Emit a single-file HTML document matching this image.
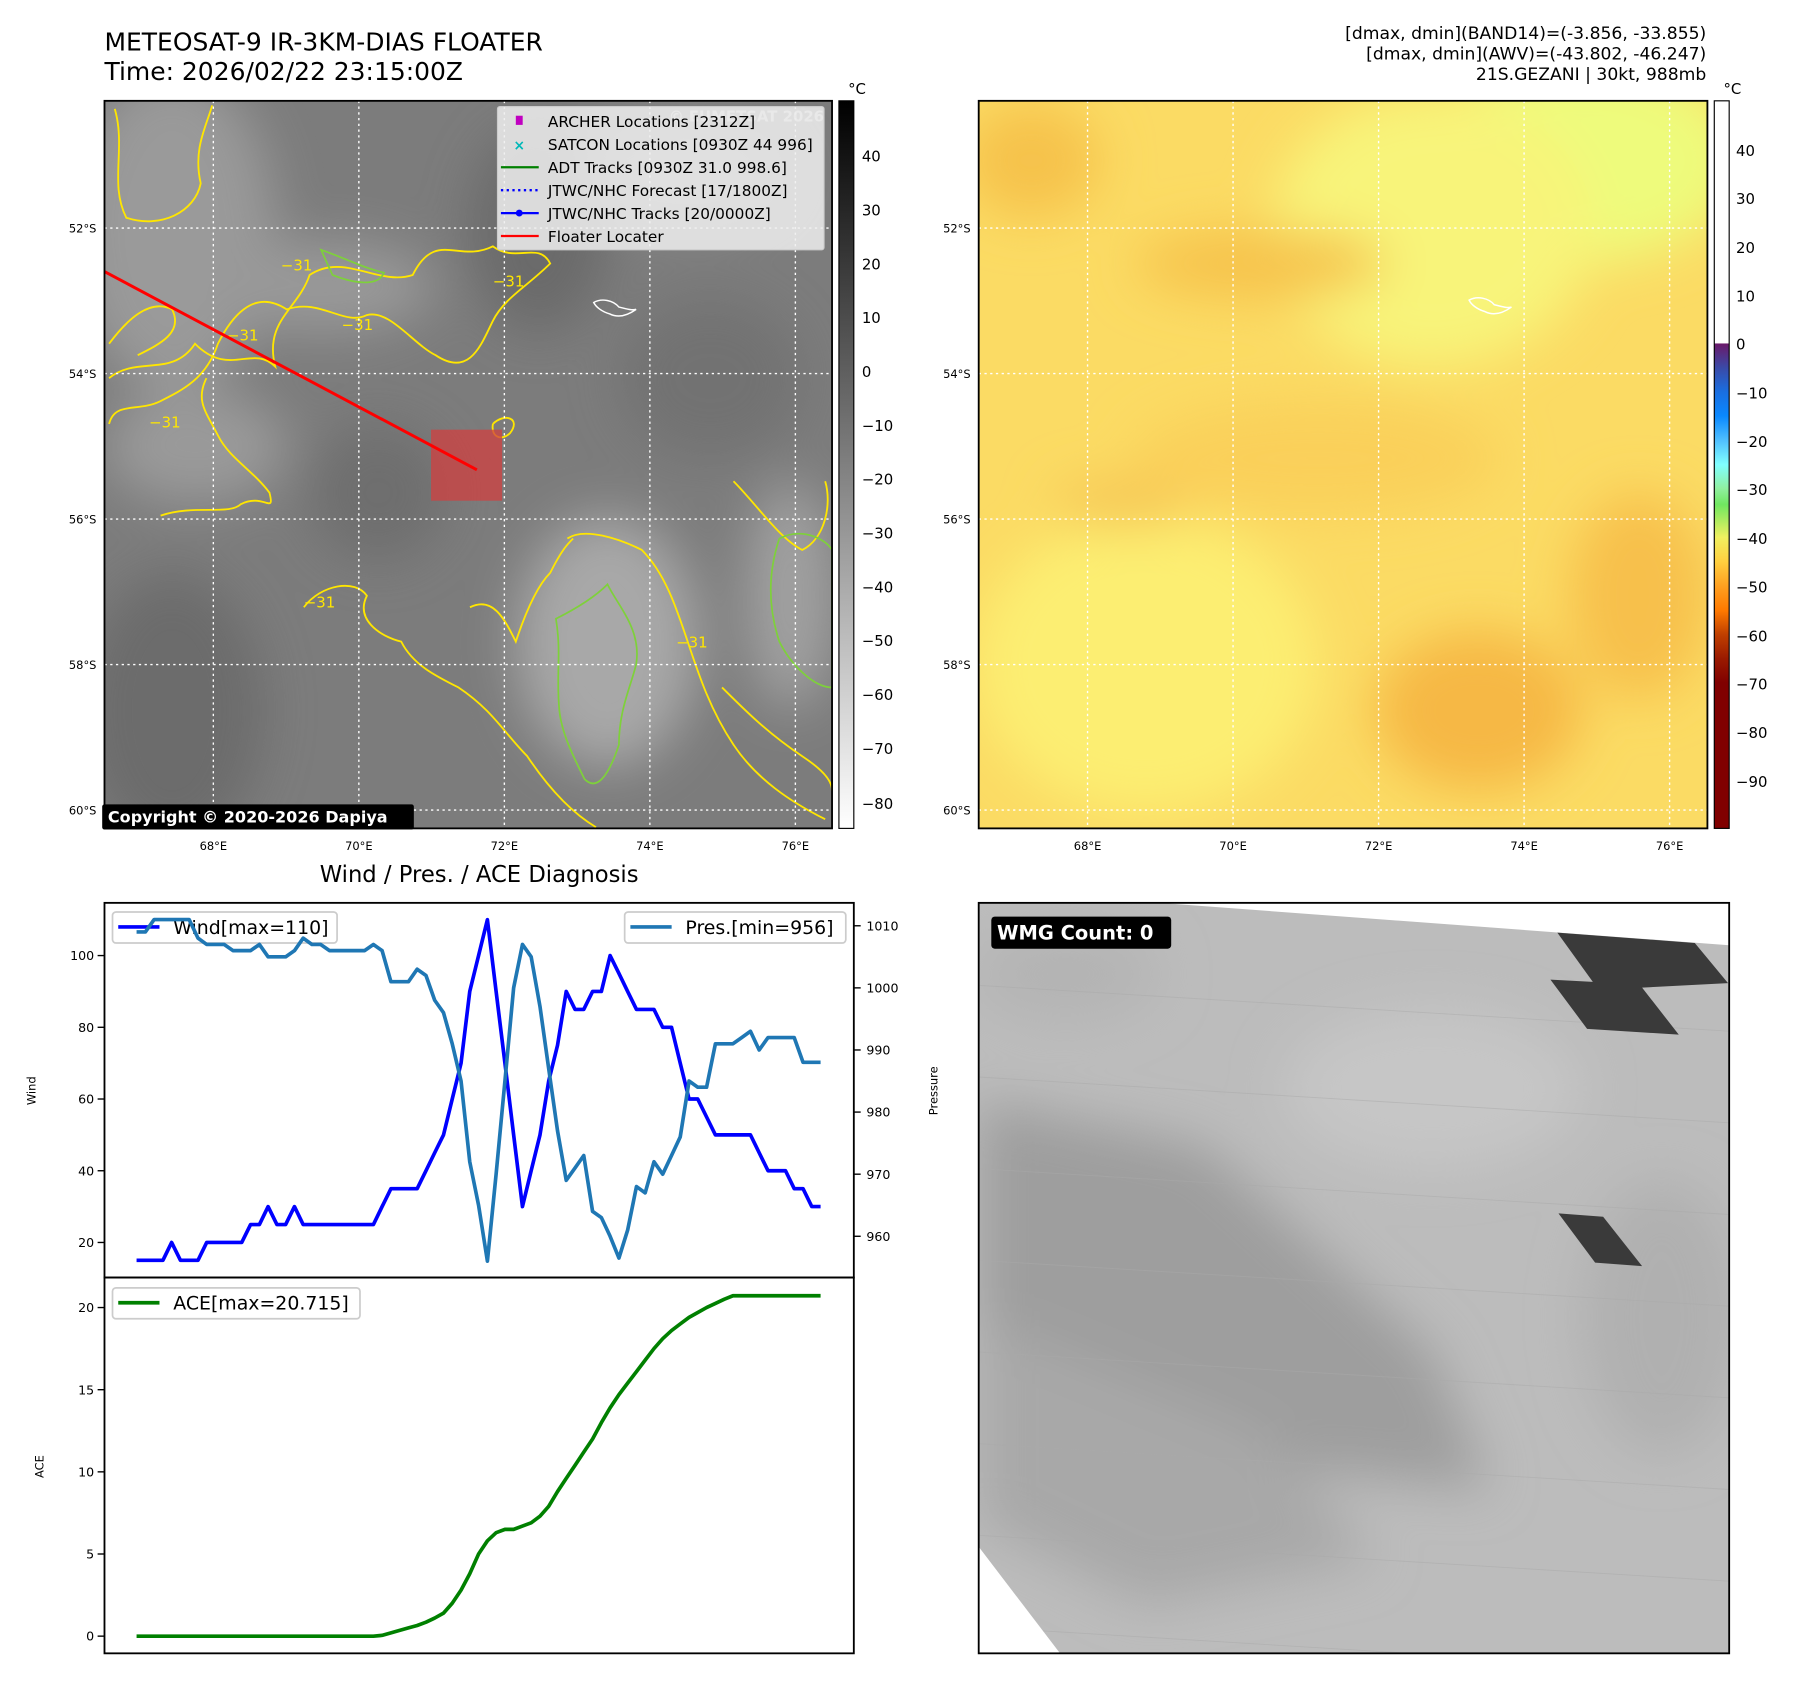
<!DOCTYPE html>
<html><head><meta charset="utf-8">
<style>
html,body{margin:0;padding:0;background:#fff;}
svg{display:block;font-family:"DejaVu Sans","Liberation Sans",sans-serif;}
</style></head>
<body>
<svg id="root" width="1797" height="1690" viewBox="0 0 1568 1475" xmlns="http://www.w3.org/2000/svg">
<defs>
  <filter id="blur20" x="-50%" y="-50%" width="200%" height="200%"><feGaussianBlur stdDeviation="22"/></filter>
  <clipPath id="clipL"><rect x="91" y="88" width="635" height="635"/></clipPath>
  <clipPath id="clipR"><rect x="854" y="88" width="636" height="635"/></clipPath>
  <clipPath id="clipB"><rect x="854" y="788" width="655" height="655"/></clipPath>
  <linearGradient id="cbGray" x1="0" y1="0" x2="0" y2="1">
    <stop offset="0" stop-color="#000"/><stop offset="1" stop-color="#fff"/>
  </linearGradient>
  <linearGradient id="cbColor" x1="0" y1="0" x2="0" y2="1">
    <stop offset="0" stop-color="#fff"/><stop offset="0.333" stop-color="#fff"/>
    <stop offset="0.334" stop-color="#6a1a6a"/>
    <stop offset="0.367" stop-color="#3a4aa8"/>
    <stop offset="0.40" stop-color="#1a6ee0"/>
    <stop offset="0.433" stop-color="#0a88ff"/>
    <stop offset="0.467" stop-color="#50c0ff"/>
    <stop offset="0.50" stop-color="#80ffff"/>
    <stop offset="0.533" stop-color="#90f0a0"/>
    <stop offset="0.555" stop-color="#70e860"/>
    <stop offset="0.60" stop-color="#f0f060"/>
    <stop offset="0.633" stop-color="#ffd040"/>
    <stop offset="0.667" stop-color="#ffa020"/>
    <stop offset="0.70" stop-color="#ff7a00"/>
    <stop offset="0.733" stop-color="#c04000"/>
    <stop offset="0.767" stop-color="#9a1a00"/>
    <stop offset="0.80" stop-color="#800000"/>
    <stop offset="1" stop-color="#800000"/>
  </linearGradient>
</defs>

<!-- titles -->
<text x="91" y="44" font-size="21.8">METEOSAT-9 IR-3KM-DIAS FLOATER</text>
<text x="91" y="70" font-size="21.8">Time: 2026/02/22 23:15:00Z</text>
<text x="1489" y="34" font-size="15" text-anchor="end">[dmax, dmin](BAND14)=(-3.856, -33.855)</text>
<text x="1489" y="52" font-size="15" text-anchor="end">[dmax, dmin](AWV)=(-43.802, -46.247)</text>
<text x="1489" y="70" font-size="15" text-anchor="end">21S.GEZANI | 30kt, 988mb</text>

<!-- LEFT IR MAP -->
<g clip-path="url(#clipL)">
  <rect x="91" y="88" width="635" height="635" fill="#7c7c7c"/>
  <g filter="url(#blur20)">
    <ellipse cx="150" cy="200" rx="90" ry="140" fill="#9a9a9a"/>
    <ellipse cx="280" cy="250" rx="100" ry="40" fill="#999"/>
    <ellipse cx="170" cy="390" rx="80" ry="50" fill="#9a9a9a"/>
    <ellipse cx="530" cy="560" rx="80" ry="110" fill="#a8a8a8"/>
    <ellipse cx="690" cy="520" rx="40" ry="100" fill="#a0a0a0"/>
    <ellipse cx="150" cy="620" rx="80" ry="120" fill="#6c6c6c"/>
    <ellipse cx="470" cy="200" rx="60" ry="90" fill="#6a6a6a"/>
    <ellipse cx="620" cy="330" rx="80" ry="70" fill="#727272"/>
    <ellipse cx="330" cy="430" rx="60" ry="60" fill="#6e6e6e"/>
    <ellipse cx="600" cy="150" rx="90" ry="50" fill="#8c8c8c"/>
  </g>
  <g fill="none" stroke="#ffe600" stroke-width="1.6">
    <path d="M100,95 C110,130 95,160 110,190 C140,200 170,185 175,160 C168,130 180,110 185,92"/>
    <path d="M95,330 C120,310 150,330 170,300 C200,330 220,300 240,320 C230,280 260,270 270,240 C300,220 330,250 360,240 C380,200 400,230 430,215 C450,230 470,210 480,230 C460,250 440,260 430,280 C420,300 410,330 380,310 C360,300 340,270 320,275 C300,285 280,260 250,270 C220,250 200,280 190,300 C180,330 160,340 140,350 C120,360 100,350 95,370"/>
    <path d="M95,300 C110,280 130,260 150,270 C160,290 140,300 120,310"/>
    <path d="M140,450 C170,440 200,450 210,440 C230,430 240,450 235,430 C220,410 200,400 190,380 C180,360 170,350 180,330"/>
    <path d="M265,530 C280,510 310,505 320,520 C310,540 330,555 350,560 C360,580 380,590 400,600 C430,620 440,640 460,660 C480,690 500,710 520,722"/>
    <path d="M495,470 C510,460 540,470 560,480 C580,500 590,530 600,560 C610,590 620,620 640,650 C660,680 690,700 720,715"/>
    <path d="M410,530 C430,520 440,540 450,560 C460,530 470,510 480,500 C490,480 495,475 500,470"/>
    <path d="M640,420 C660,440 680,470 700,480 C720,470 726,440 720,420"/>
    <path d="M630,600 C650,620 670,640 700,660 C715,670 726,680 726,690"/>
    <path d="M430,370 C440,360 455,365 445,378 C438,385 428,382 430,370"/>
  </g>
  <g fill="none" stroke="#7ed13a" stroke-width="1.5">
    <path d="M485,540 C505,530 520,520 530,510 C540,530 560,550 555,580 C550,600 540,620 540,650 C530,680 520,690 510,680 C500,660 490,640 488,620 C485,590 490,570 485,540 Z"/>
    <path d="M680,470 C700,460 720,470 726,480 L726,600 C710,600 690,580 680,560 C670,530 670,500 680,470 Z"/>
    <path d="M280,218 C300,225 320,235 335,238 C330,250 310,248 290,240 Z"/>
  </g>
  <g fill="#ffe600" font-size="13">
    <text x="245" y="236">−31</text><text x="198" y="297">−31</text><text x="298" y="288">−31</text>
    <text x="130" y="373">−31</text><text x="265" y="530">−31</text><text x="430" y="250">−31</text><text x="590" y="565">−31</text>
  </g>
  <path d="M518,264 C525,260 535,262 540,268 C548,270 552,271 555,270 C548,275 540,278 532,274 C525,272 520,268 518,264 Z" fill="none" stroke="#fff" stroke-width="1.3"/>
  <g stroke="#fff" stroke-width="1.2" stroke-dasharray="2,3">
    <line x1="91" y1="199" x2="726" y2="199"/><line x1="91" y1="326" x2="726" y2="326"/><line x1="91" y1="453" x2="726" y2="453"/><line x1="91" y1="580" x2="726" y2="580"/><line x1="91" y1="707" x2="726" y2="707"/>
    <line x1="186" y1="88" x2="186" y2="723"/><line x1="313" y1="88" x2="313" y2="723"/><line x1="440" y1="88" x2="440" y2="723"/><line x1="567" y1="88" x2="567" y2="723"/><line x1="694" y1="88" x2="694" y2="723"/>
  </g>
  <rect x="376" y="375" width="62" height="62" fill="#d04040" opacity="0.75"/>
  <line x1="91" y1="237" x2="416" y2="410" stroke="#f00" stroke-width="2.6"/>
  <text x="719" y="106" font-size="13" font-weight="bold" fill="#ddd" text-anchor="end" opacity="0.8">© EUMETSAT 2026</text>
</g>
<rect x="91" y="88" width="635" height="635" fill="none" stroke="#000" stroke-width="1.6"/>
<g font-size="13.4">
  <rect x="434" y="93" width="285" height="125" fill="#eee" fill-opacity="0.85" stroke="#ccc" rx="2"/>
  <rect x="450" y="101" width="6" height="8" fill="#c000c0"/><text x="478" y="111">ARCHER Locations [2312Z]</text>
  <text x="448" y="131" fill="#00b8b8" font-size="12" font-weight="bold">×</text><text x="478" y="131">SATCON Locations [0930Z 44 996]</text>
  <line x1="437" y1="146" x2="470" y2="146" stroke="#008000" stroke-width="2"/><text x="478" y="151">ADT Tracks [0930Z 31.0 998.6]</text>
  <line x1="437" y1="166" x2="470" y2="166" stroke="#00f" stroke-width="2" stroke-dasharray="2,3"/><text x="478" y="171">JTWC/NHC Forecast [17/1800Z]</text>
  <line x1="437" y1="186" x2="470" y2="186" stroke="#00f" stroke-width="2"/><circle cx="453" cy="186" r="3" fill="#00f"/><text x="478" y="191">JTWC/NHC Tracks [20/0000Z]</text>
  <line x1="437" y1="206" x2="470" y2="206" stroke="#f00" stroke-width="2"/><text x="478" y="211">Floater Locater</text>
</g>
<g>
  <rect x="89" y="702" width="272" height="22" fill="#000" rx="2"/>
  <text x="94" y="718" font-size="14" font-weight="bold" fill="#fff">Copyright © 2020-2026 Dapiya</text>
</g>
<g font-size="10" text-anchor="end">
  <text x="84" y="203">52°S</text><text x="84" y="330">54°S</text><text x="84" y="457">56°S</text><text x="84" y="584">58°S</text><text x="84" y="711">60°S</text>
</g>
<g font-size="10" text-anchor="middle">
  <text x="186" y="742">68°E</text><text x="313" y="742">70°E</text><text x="440" y="742">72°E</text><text x="567" y="742">74°E</text><text x="694" y="742">76°E</text>
</g>
<g>
  <rect x="732" y="88" width="13" height="635" fill="url(#cbGray)" stroke="#000" stroke-width="1"/>
  <text x="740" y="82" font-size="13">°C</text>
  <g font-size="13"><text x="752" y="141">40</text><text x="752" y="188">30</text><text x="752" y="235">20</text><text x="752" y="282">10</text><text x="752" y="329">0</text><text x="752" y="376">−10</text><text x="752" y="423">−20</text><text x="752" y="470">−30</text><text x="752" y="517">−40</text><text x="752" y="564">−50</text><text x="752" y="611">−60</text><text x="752" y="658">−70</text><text x="752" y="706">−80</text></g>
</g>

<!-- RIGHT AWV MAP -->
<g clip-path="url(#clipR)">
  <rect x="854" y="88" width="636" height="635" fill="#fbdb64"/>
  <g filter="url(#blur20)">
    <ellipse cx="1380" cy="140" rx="140" ry="90" fill="#eefb7c"/>
    <ellipse cx="1250" cy="200" rx="140" ry="120" fill="#f8f47a"/>
    <ellipse cx="1000" cy="580" rx="150" ry="130" fill="#fcee72"/>
    <ellipse cx="900" cy="140" rx="60" ry="50" fill="#f6c24c"/>
    <ellipse cx="1100" cy="230" rx="110" ry="30" fill="#f6c24c"/>
    <ellipse cx="1290" cy="620" rx="90" ry="70" fill="#f6b845"/>
    <ellipse cx="1430" cy="520" rx="60" ry="90" fill="#f7c04c"/>
    <ellipse cx="980" cy="440" rx="60" ry="20" fill="#f6c452"/>
    <ellipse cx="1150" cy="400" rx="160" ry="50" fill="#fad05a"/>
  </g>
  <path d="M1282,262 C1289,258 1299,260 1304,266 C1312,268 1316,269 1319,268 C1312,273 1304,276 1296,272 C1289,270 1284,266 1282,262 Z" fill="none" stroke="#fff" stroke-width="1.3"/>
  <g stroke="#fff" stroke-width="1.2" stroke-dasharray="2,3">
    <line x1="854" y1="199" x2="1490" y2="199"/><line x1="854" y1="326" x2="1490" y2="326"/><line x1="854" y1="453" x2="1490" y2="453"/><line x1="854" y1="580" x2="1490" y2="580"/><line x1="854" y1="707" x2="1490" y2="707"/>
    <line x1="949" y1="88" x2="949" y2="723"/><line x1="1076" y1="88" x2="1076" y2="723"/><line x1="1203" y1="88" x2="1203" y2="723"/><line x1="1330" y1="88" x2="1330" y2="723"/><line x1="1457" y1="88" x2="1457" y2="723"/>
  </g>
</g>
<rect x="854" y="88" width="636" height="635" fill="none" stroke="#000" stroke-width="1.6"/>
<g font-size="10" text-anchor="end">
  <text x="847" y="203">52°S</text><text x="847" y="330">54°S</text><text x="847" y="457">56°S</text><text x="847" y="584">58°S</text><text x="847" y="711">60°S</text>
</g>
<g font-size="10" text-anchor="middle">
  <text x="949" y="742">68°E</text><text x="1076" y="742">70°E</text><text x="1203" y="742">72°E</text><text x="1330" y="742">74°E</text><text x="1457" y="742">76°E</text>
</g>
<g>
  <rect x="1496" y="88" width="13" height="635" fill="url(#cbColor)" stroke="#000" stroke-width="1"/>
  <text x="1504" y="82" font-size="13">°C</text>
  <g font-size="13"><text x="1515" y="136">40</text><text x="1515" y="178">30</text><text x="1515" y="221">20</text><text x="1515" y="263">10</text><text x="1515" y="305">0</text><text x="1515" y="348">−10</text><text x="1515" y="390">−20</text><text x="1515" y="432">−30</text><text x="1515" y="475">−40</text><text x="1515" y="517">−50</text><text x="1515" y="560">−60</text><text x="1515" y="602">−70</text><text x="1515" y="644">−80</text><text x="1515" y="687">−90</text></g>
</g>

<!-- WMG panel -->
<g clip-path="url(#clipB)">
  <rect x="854" y="788" width="655" height="655" fill="#bcbcbc"/>
  <g filter="url(#blur20)">
    <path d="M854,960 L1050,1000 L1250,1180 L1300,1300 L1100,1280 L854,1150 Z" fill="#9e9e9e"/>
    <path d="M854,1150 L1100,1250 L1200,1360 L1000,1400 L854,1330 Z" fill="#a8a8a8"/>
    <ellipse cx="1250" cy="950" rx="130" ry="70" fill="#c6c6c6"/>
    <ellipse cx="1450" cy="1150" rx="70" ry="120" fill="#b0b0b0"/>
    <ellipse cx="930" cy="850" rx="80" ry="40" fill="#b4b4b4"/>
  </g>
  <g stroke="#aaa" stroke-width="0.8" opacity="0.5">
    <line x1="854" y1="860" x2="1509" y2="900"/><line x1="854" y1="940" x2="1509" y2="980"/><line x1="854" y1="1020" x2="1509" y2="1060"/><line x1="854" y1="1100" x2="1509" y2="1140"/><line x1="854" y1="1180" x2="1509" y2="1220"/><line x1="854" y1="1260" x2="1509" y2="1300"/><line x1="854" y1="1340" x2="1509" y2="1380"/><line x1="854" y1="1420" x2="1509" y2="1460"/>
  </g>
  <polygon points="985,786 1509,825 1509,786" fill="#fff"/>
  <polygon points="854,1350 925,1443 854,1443" fill="#fff"/>
  <polygon points="1359,814 1479,823 1508,858 1433,862 1465,903 1385,898 1353,855 1390,857" fill="#3a3a3a"/>
  <polygon points="1360,1059 1399,1062 1433,1105 1392,1102" fill="#3a3a3a"/>
</g>
<rect x="854" y="788" width="655" height="655" fill="none" stroke="#000" stroke-width="1.6"/>
<g>
  <rect x="865" y="800" width="157" height="28" rx="3" fill="#000"/>
  <text x="870" y="820" font-size="17" font-weight="bold" fill="#fff">WMG Count: 0</text>
</g>

<!-- DIAGNOSIS CHART -->
<text x="418" y="770" font-size="19.8" text-anchor="middle">Wind / Pres. / ACE Diagnosis</text>
<g id="chart"></g>
</svg>

<script>
const windValues = [15,15,15,15,20,15,15,15,20,20,20,20,20,25,25,30,25,25,30,25,25,25,25,25,25,25,25,25,30,35,35,35,35,40,45,50,60,70,90,100,110,90,70,50,30,40,50,65,75,90,85,85,90,90,100,95,90,85,85,85,80,80,70,60,60,55,50,50,50,50,50,45,40,40,40,35,35,30,30];
const presValues = [1009,1009,1011,1011,1011,1011,1011,1008,1007,1007,1007,1006,1006,1006,1007,1005,1005,1005,1006,1008,1007,1007,1006,1006,1006,1006,1006,1007,1006,1001,1001,1001,1003,1002,998,996,991,985,972,965,956,970,985,1000,1007,1005,997,987,977,969,971,973,964,963,960,956.5,961,968,967,972,970,973,976,985,984,984,991,991,991,992,993,990,992,992,992,992,988,988,988];
const aceValues = [0,0,0,0,0,0,0,0,0,0,0,0,0,0,0,0,0,0,0,0,0,0,0,0,0,0,0,0,0.05,0.2,0.35,0.5,0.65,0.85,1.1,1.4,2.0,2.8,3.8,5.0,5.8,6.3,6.5,6.5,6.7,6.9,7.3,7.9,8.8,9.6,10.4,11.2,12.0,13.0,13.9,14.7,15.4,16.1,16.8,17.5,18.1,18.6,19.0,19.4,19.7,20.0,20.25,20.5,20.715,20.715,20.715,20.715,20.715,20.715,20.715,20.715,20.715,20.715,20.715];
const windTicks = [20,40,60,80,100];
const presTicks = [960,970,980,990,1000,1010];
const aceTicks = [0,5,10,15,20];

const NS = 'http://www.w3.org/2000/svg';
const chart = document.getElementById('chart');
function mk(tag, attrs, parent){const e=document.createElementNS(NS,tag);for(const k in attrs)e.setAttribute(k,attrs[k]);(parent||chart).appendChild(e);return e;}
const n = windValues.length;
const xScale = i => 119 + i*(716-119)/(n-1);
const yWind = v => 834 - (v-100)*3.13;
const yPres = v => 808 - (v-1010)*5.42;
const yAce = v => 1428 - v*14.34;

let e;
e = mk('rect',{x:91,y:788,width:654,height:327,fill:'none',stroke:'#000','stroke-width':1.6});


e = mk('rect',{x:91,y:1115,width:654,height:328,fill:'none',stroke:'#000','stroke-width':1.6});



windTicks.forEach(t=>{
  const y=yWind(t);
  e=mk('line',{x1:85,y1:y,x2:91,y2:y,stroke:'#000','stroke-width':1.2});
  
  
  e=mk('text',{x:82,y:y+4,'font-size':11,'text-anchor':'end'});e.textContent=t;
  
  
});
presTicks.forEach(t=>{
  const y=yPres(t);
  e=mk('line',{x1:745,y1:y,x2:751,y2:y,stroke:'#000','stroke-width':1.2});
  
  
  e=mk('text',{x:756,y:y+4,'font-size':11});e.textContent=t;
  
  
});
aceTicks.forEach(t=>{
  const y=yAce(t);
  e=mk('line',{x1:85,y1:y,x2:91,y2:y,stroke:'#000','stroke-width':1.2});
  
  
  e=mk('text',{x:82,y:y+4,'font-size':11,'text-anchor':'end'});e.textContent=t;
  
  
});
e=mk('text',{x:31,y:952,'font-size':10,'text-anchor':'middle',transform:'rotate(-90 31 952)'});e.textContent='Wind';


e=mk('text',{x:818,y:952,'font-size':10,'text-anchor':'middle',transform:'rotate(-90 818 952)'});e.textContent='Pressure';


e=mk('text',{x:38,y:1280,'font-size':10,'text-anchor':'middle',transform:'rotate(-90 38 1280)'});e.textContent='ACE';



function legend(x,y,w,color,label,name){
  const g=mk('g',{});
  
  
  mk('rect',{x:x,y:y,width:w,height:27,fill:'#fff','fill-opacity':0.8,stroke:'#ccc','stroke-width':1.5,rx:3},g);
  mk('line',{x1:x+5,y1:y+13,x2:x+41,y2:y+13,stroke:color,'stroke-width':3.2},g);
  const t=mk('text',{x:x+53,y:y+19,'font-size':16.5},g);t.textContent=label;
}
legend(98,796,196,'#0000ff','Wind[max=110]','wind-legend');

function pathFrom(arr, yf){return arr.map((v,i)=>(i?'L':'M')+xScale(i).toFixed(1)+','+yf(v).toFixed(1)).join(' ');}
e=mk('path',{d:pathFrom(windValues,yWind),fill:'none',stroke:'#0000ff','stroke-width':3.2,'stroke-linejoin':'round'});


e=mk('path',{d:pathFrom(presValues,yPres),fill:'none',stroke:'#1f77b4','stroke-width':3.2,'stroke-linejoin':'round'});


e=mk('path',{d:pathFrom(aceValues,yAce),fill:'none',stroke:'#008000','stroke-width':3.2,'stroke-linejoin':'round'});



legend(545,796,193,'#1f77b4','Pres.[min=956]','pressure-legend');
legend(98,1124,216,'#008000','ACE[max=20.715]','ace-legend');
</script>
</body></html>
